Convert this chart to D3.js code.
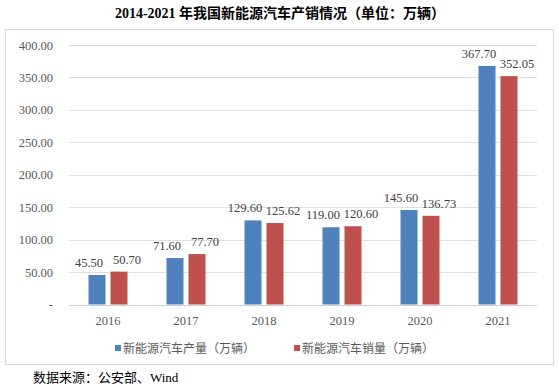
<!DOCTYPE html>
<html><head><meta charset="utf-8">
<script src="https://cdn.jsdelivr.net/npm/d3@7"></script>
<style>body{margin:0;background:#fff;}svg{display:block;}</style>
</head><body>
<script>
const years = ["2016","2017","2018","2019","2020","2021"];
const production = [45.50, 71.60, 129.60, 119.00, 145.60, 367.70];
const sales = [50.70, 77.70, 125.62, 120.60, 136.73, 352.05];
const seriesNames = ["新能源汽车产量（万辆）", "新能源汽车销量（万辆）"];
const yTicks = [0, 50, 100, 150, 200, 250, 300, 350, 400];
const colors = ["#4F81BD", "#C0504D"];

const W = 559, H = 388;
const svg = d3.select("body").append("svg").attr("width", W).attr("height", H);
const serif = "'Liberation Serif','Times New Roman','Noto Sans CJK SC',serif";
const sans = "'Noto Sans CJK SC','Noto Sans',sans-serif";

svg.append("text").attr("x", 280).attr("y", 18).attr("text-anchor", "middle")
  .attr("font-family", serif).attr("font-weight", "bold").attr("font-size", 14)
  .attr("fill", "#000").text("2014-2021 年我国新能源汽车产销情况（单位：万辆）");

svg.append("rect").attr("x", 5.5).attr("y", 29.5).attr("width", 548).attr("height", 335)
  .attr("fill", "none").attr("stroke", "#d9d9d9");

const x = d3.scaleBand().domain(years).range([69, 537]);
const y = d3.scaleLinear().domain([0, 400]).range([304.5, 45]);

const grid = svg.append("g");
yTicks.forEach(t => {
  grid.append("line").attr("x1", 69).attr("x2", 537).attr("y1", Math.round(y(t)) + 0.5).attr("y2", Math.round(y(t)) + 0.5)
    .attr("stroke", t === 0 ? "#d0d0d0" : "#e0e0e0");
  svg.append("text").attr("x", 53).attr("y", y(t) + 4.5).attr("text-anchor", "end")
    .attr("font-family", serif).attr("font-size", 12.5).attr("fill", "#595959")
    .text(t === 0 ? "-" : d3.format(".2f")(t));
});

const bw = 17, gap = 5;
const series = [production, sales];
series.forEach((vals, si) => {
  const g = svg.append("g");
  vals.forEach((v, i) => {
    const cx = x(years[i]) + x.bandwidth() / 2;
    const x0 = si === 0 ? cx - gap / 2 - bw : cx + gap / 2;
    g.append("rect").attr("x", x0).attr("y", y(v)).attr("width", bw).attr("height", y(0) - y(v))
      .attr("fill", colors[si]);
    g.append("text").attr("x", x0 + bw / 2 + (si === 0 ? -8 : 8)).attr("y", y(v) - 8)
      .attr("text-anchor", "middle").attr("font-family", serif).attr("font-size", 12.5)
      .attr("fill", "#404040").text(d3.format(".2f")(v));
  });
});

years.forEach(yr => {
  svg.append("text").attr("x", x(yr) + x.bandwidth() / 2).attr("y", 325)
    .attr("text-anchor", "middle").attr("font-family", serif).attr("font-size", 12.5)
    .attr("fill", "#595959").text(yr);
});

const legX = [115, 294];
seriesNames.forEach((n, i) => {
  svg.append("rect").attr("x", legX[i]).attr("y", 345).attr("width", 6).attr("height", 6).attr("fill", colors[i]);
  svg.append("text").attr("x", legX[i] + 8).attr("y", 352.5).attr("font-family", sans)
    .attr("font-size", 12).attr("fill", "#595959").text(n);
});

svg.append("text").attr("x", 33).attr("y", 382).attr("font-family", serif).attr("font-size", 13)
  .attr("fill", "#000").text("数据来源：公安部、Wind");
</script>
</body></html>
